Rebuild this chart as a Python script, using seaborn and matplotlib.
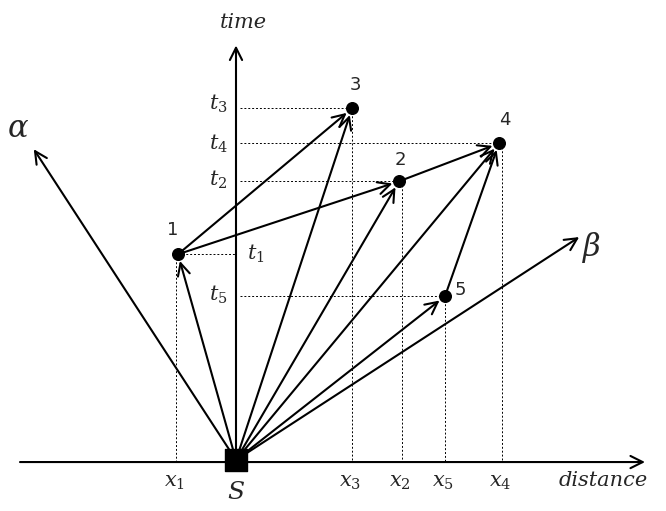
import matplotlib
matplotlib.use("Agg")
import matplotlib.pyplot as plt
import seaborn as sns

sns.set_style("white")
plt.rcParams["mathtext.fontset"] = "dejavuserif"

# event points (pixel-like diagram coordinates)
labels = ["1", "2", "3", "4", "5"]
px = [178, 399, 352, 499, 445]
py = [254, 181, 108, 143, 296]
# tick positions on the axes for each event
xt = [176, 402, 352, 502, 445]
xlabels = ["$x_1$", "$x_2$", "$x_3$", "$x_4$", "$x_5$"]
tlabels = ["$t_1$", "$t_2$", "$t_3$", "$t_4$", "$t_5$"]
source = (236, 460)
links = [(0, 2), (0, 1), (1, 3), (4, 3)]

fig = plt.figure(figsize=(6.66, 5.11), dpi=100)
ax = fig.add_axes([0, 0, 1, 0.999])
ax.set_xlim(0, 666)
ax.set_ylim(511, 0)
ax.axis("off")

def arrow(p, q, lw=1.5, shrink=5):
    ax.annotate("", xy=q, xytext=p,
                arrowprops=dict(arrowstyle="->", lw=lw, color="black",
                                mutation_scale=22, shrinkA=0, shrinkB=shrink))

# axes
arrow((20, 462), (645, 462), shrink=0)
arrow((236, 462), (236, 45), shrink=0)
ax.text(243, 22, "time", fontsize=15, style="italic", ha="center", va="center", family="DejaVu Serif")
ax.text(603, 480, "distance", fontsize=15, style="italic", ha="center", va="center", family="DejaVu Serif")

# dashed guide lines
for i in range(5):
    ax.plot([xt[i], xt[i]], [py[i], 462], ls=(0, (2, 2)), lw=0.7, color="black")
    ax.plot([240 if i != 0 else px[i], px[i] if i != 0 else 236], [py[i], py[i]],
            ls=(0, (2, 2)), lw=0.7, color="black")
    ax.text(xt[i] - 2, 482, xlabels[i], fontsize=15, ha="center", va="center")
tpos = [(256, 254), (218, 180), (218, 103), (218, 143), (218, 295)]
for i in range(5):
    ax.text(tpos[i][0], tpos[i][1], tlabels[i], fontsize=15, ha="center", va="center")

# alpha / beta axes
arrow(source, (30, 143))
arrow(source, (585, 233))
ax.text(18, 128, r"$\alpha$", fontsize=22, ha="center", va="center")
ax.text(592, 247, r"$\beta$", fontsize=22, ha="center", va="center")

# arrows from source and between events
for i in range(5):
    arrow(source, (px[i], py[i]))
for a, b in links:
    arrow((px[a], py[a]), (px[b], py[b]))

ax.scatter(px, py, s=70, color="black", zorder=5)
lpos = [(173, 230), (400, 160), (355, 85), (505, 120), (460, 290)]
for i in range(5):
    ax.text(lpos[i][0], lpos[i][1], labels[i], fontsize=13, ha="center", va="center")

ax.scatter([236], [460], s=250, marker="s", color="black", zorder=6)
ax.text(236, 492, "$S$", fontsize=18, ha="center", va="center")

fig.savefig("out.png", dpi=100)
